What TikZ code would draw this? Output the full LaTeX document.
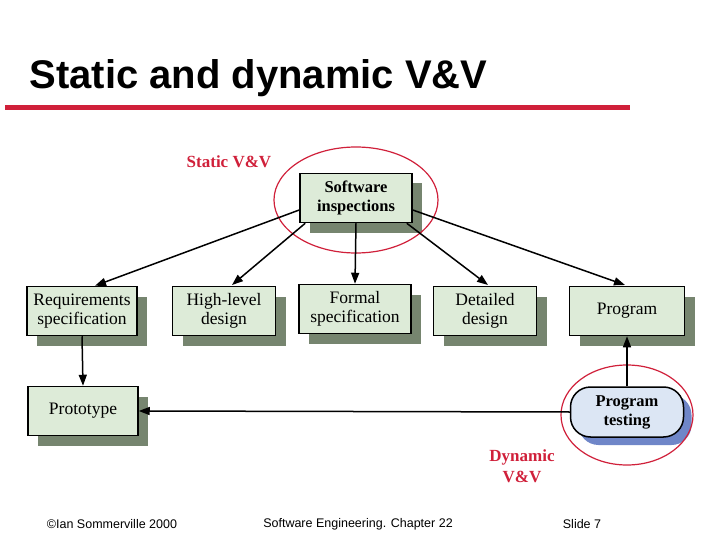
\documentclass[tikz,border=0pt]{standalone}
\usepackage{fontspec}
\setmainfont{Liberation Serif}
\newfontfamily\sans{Liberation Sans}
\usetikzlibrary{arrows.meta,shadows}
\definecolor{boxg}{HTML}{DDEBD8}
\definecolor{shad}{HTML}{76856F}
\definecolor{red1}{HTML}{D0203A}
\definecolor{blu}{HTML}{DCE6F4}
\definecolor{bshad}{HTML}{6F86C8}
\begin{document}
\begin{tikzpicture}[x=1pt,y=-1pt,
 box/.style={draw=black,line width=1.5pt,fill=boxg,minimum width=110pt,minimum height=49pt,align=center,font=\fontsize{17.5}{19}\selectfont,inner sep=1pt,
   drop shadow={shadow xshift=10pt,shadow yshift=-10pt,fill=shad,opacity=1}},
 arr/.style={line width=1.5pt,-{Triangle[length=11pt,width=8pt]}},
 red/.style={draw=red1,line width=1.2pt}]
\useasboundingbox (0,0) rectangle (720,540);
\node[anchor=west,font=\sans\bfseries\fontsize{40}{42}\selectfont] (title) at (26,78) {Static and dynamic V\&V};
\fill[red1] (5,105) rectangle (630,110);
\node[box,minimum width=112pt,font=\bfseries\fontsize{16.5}{19}\selectfont] (si) at (356,198) {Software\\inspections};
\node[box] (req) at (82,311) {Requirements\\specification};
\node[box,minimum width=103pt] (hl) at (224,311) {High-level\\design};
\node[box,minimum width=112pt] (fs) at (355,309) {Formal\\specification};
\node[box,minimum width=103pt] (dd) at (485,311) {Detailed\\design};
\node[box,minimum width=115pt] (pg) at (627,311) {Program};
\node[box] (pt) at (83,411) {Prototype};
\node[draw=black,line width=1.5pt,fill=blu,rounded corners=20pt,minimum width=113pt,minimum height=50pt,align=center,font=\bfseries\fontsize{16.5}{19}\selectfont,inner sep=1pt,
  drop shadow={shadow xshift=8pt,shadow yshift=-8pt,fill=bshad,opacity=1}] (tst) at (627,412) {Program\\testing};
\draw[red] (356,200) ellipse [x radius=82,y radius=53];
\draw[red] (627,415) ellipse [x radius=66,y radius=50];
\node[text=red1,font=\bfseries\fontsize{17}{18}\selectfont] (sl) at (229,162) {Static V\&V};
\node[text=red1,font=\bfseries\fontsize{17}{21}\selectfont,align=center] (dl) at (522,466) {Dynamic\\V\&V};
\draw[arr] (si.west) ++(0,12) coordinate (a1) -- (req.north -| 95,0);
\draw[arr] (si.south west) ++(6,0) -- (232,285);
\draw[arr] (si.south) -- (fs.north);
\draw[arr] (si.south east) ++(-6,0) -- (488,285);
\draw[arr] (si.east) ++(0,12) -- (625,285);
\draw[arr] (req.south) -- (pt.north);
\draw[arr] (tst.north) -- (pg.south);
\draw[arr] (tst.west) -- (pt.east);
\node[font=\sans\fontsize{12.5}{13}\selectfont] (f1) at (112,524) {©Ian Sommerville 2000};
\node[font=\sans\fontsize{12.5}{13}\selectfont] (f2) at (358,524) {Software Engineering. Chapter 22};
\node[font=\sans\fontsize{12.5}{13}\selectfont] (f3) at (582,524) {Slide 7};
\end{tikzpicture}
\end{document}
